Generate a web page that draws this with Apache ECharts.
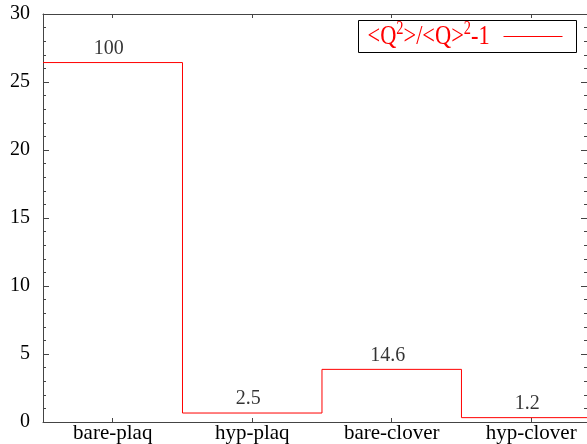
<!DOCTYPE html>
<html><head><meta charset="utf-8">
<script src="https://cdn.jsdelivr.net/npm/echarts@6/dist/echarts.min.js"></script>
<style>html,body{margin:0;padding:0;background:#fff}#c{width:587px;height:444px}</style>
</head><body><div id="c"></div>
<script>
const categories = ['bare-plaq', 'hyp-plaq', 'bare-clover', 'hyp-clover'];
const values = [26.43, 0.66, 3.87, 0.32];
const valueLabels = ['100', '2.5', '14.6', '1.2'];
const yMin = 0, yMax = 30, yStep = 5;

const FONT = '"Liberation Serif", "Times New Roman", serif';
const AX = '#444';

const stepData = [];
values.forEach((v, i) => { stepData.push([i - 0.5, v]); stepData.push([i + 0.5, v]); });
const catPos = categories.map((c, i) => i);

const chart = echarts.init(document.getElementById('c'), null, {renderer: 'canvas'});
const yCommon = {
  type: 'value', min: yMin, max: yMax, interval: yStep,
  axisLine: {show: true, onZero: false, lineStyle: {color: AX, width: 1}},
  axisTick: {show: true, inside: true, length: 6, lineStyle: {color: AX}},
  minorTick: {show: true, splitNumber: 5, length: 3, lineStyle: {color: AX}},
  splitLine: {show: false}
};
const xCommon = {
  type: 'value', min: -0.5, max: 3.4,
  axisLine: {show: true, onZero: false, lineStyle: {color: AX, width: 1}},
  axisTick: {show: true, inside: true, length: 4, customValues: catPos, lineStyle: {color: AX}},
  splitLine: {show: false}
};
chart.setOption({
  animation: false,
  backgroundColor: '#fff',
  grid: {left: 43, top: 14, width: 545, height: 409, containLabel: false},
  xAxis: [
    Object.assign({}, xCommon, {
      position: 'bottom',
      axisLabel: {show: true, customValues: catPos, margin: 1, fontFamily: FONT, fontSize: 21, color: '#000',
        formatter: v => categories[Math.round(v)] || ''}
    }),
    Object.assign({}, xCommon, {position: 'top', axisLabel: {show: false}})
  ],
  yAxis: [
    Object.assign({}, yCommon, {position: 'left',
      axisLabel: {show: true, margin: 13, fontFamily: FONT, fontSize: 20, color: '#000'}}),
    Object.assign({}, yCommon, {position: 'right', axisLabel: {show: false}})
  ],
  series: [
    {
      type: 'line', name: '<Q²>/<Q>²-1', data: stepData, showSymbol: false, symbol: 'none',
      lineStyle: {color: '#ff0000', width: 1}, clip: true, z: 3
    },
    {
      type: 'scatter', data: values.map((v, i) => [i, v]), symbolSize: 0, silent: true,
      label: {show: true, position: 'top', distance: 4, offset: [-4, 0],
        fontFamily: FONT, fontSize: 20, color: '#000',
        formatter: p => valueLabels[p.dataIndex]}
    }
  ],
  graphic: [{
    type: 'group', left: 358, top: 20,
    children: [
      {type: 'rect', shape: {x: 0, y: 0, width: 218, height: 32},
        style: {fill: '#fff', stroke: '#000', lineWidth: 1}},
      {type: 'line', shape: {x1: 145, y1: 16, x2: 204, y2: 16},
        style: {stroke: '#ff0000', lineWidth: 1}},
      {type: 'text', x: 9, y: 0, scaleX: 0.8,
        style: {
          text: '{m|<Q}{s|2}{m|>/<Q>}{s|2}{m|-1}',
          x: 0, y: 0, verticalAlign: 'top',
          rich: {
            m: {fontFamily: FONT, fontSize: 28, lineHeight: 30, fill: '#ff0000', verticalAlign: 'bottom'},
            s: {fontFamily: FONT, fontSize: 18, lineHeight: 14, fill: '#ff0000', verticalAlign: 'top'}
          }
        }}
    ]
  }]
});
</script></body></html>
